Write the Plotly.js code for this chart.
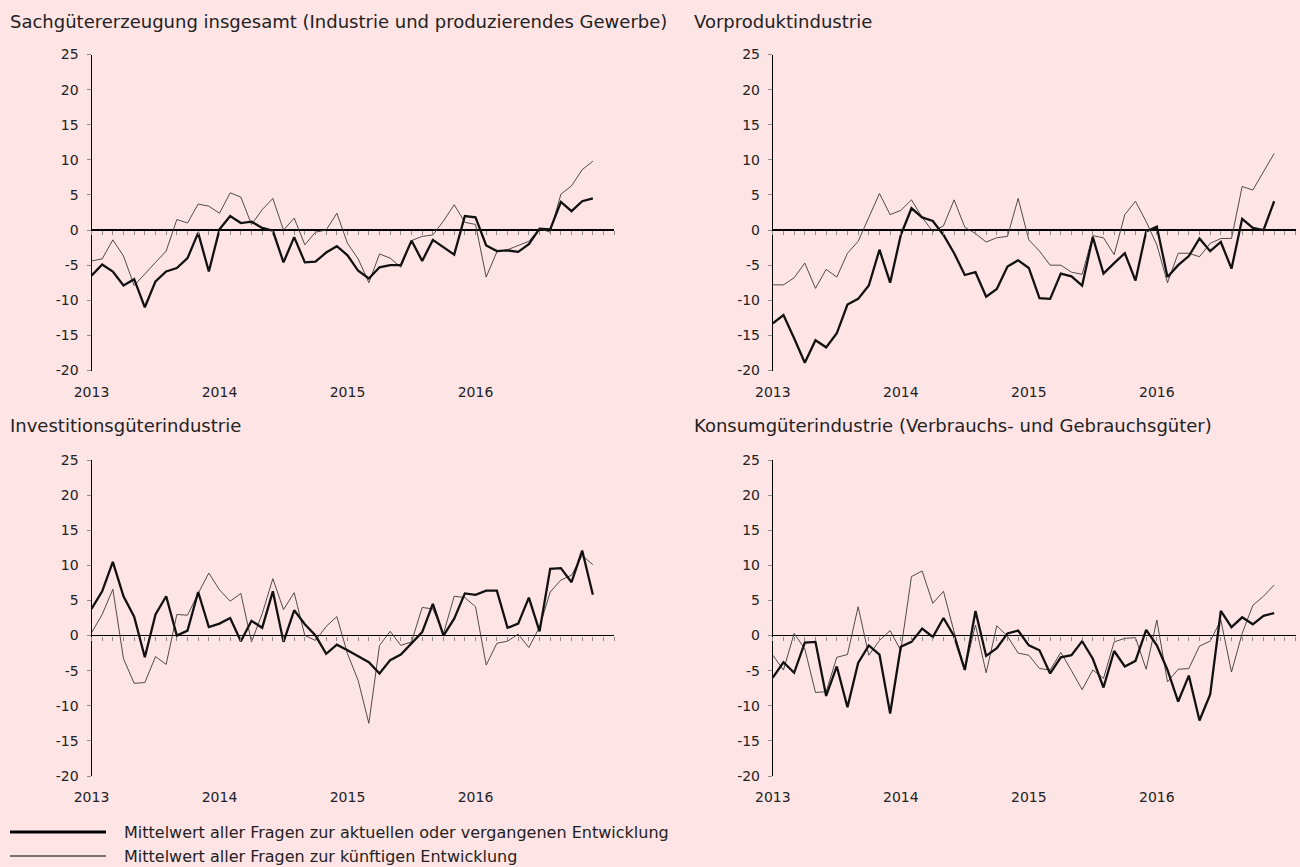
<!DOCTYPE html>
<html>
<head>
<meta charset="utf-8">
<script src="https://cdn.plot.ly/plotly-3.0.1.min.js"></script>
<style>html,body{margin:0;padding:0;background:#FFE4E6;}#chart{width:1300px;height:867px;}</style>
</head>
<body>
<div id="chart"></div>
<script>
// ---- Data (monthly, Jan 2013 - Dec 2016) ----
const yearLabels = ["2013", "2014", "2015", "2016"];
const yearTickPos = [0, 12, 24, 36];
const yTickVals = [-20, -15, -10, -5, 0, 5, 10, 15, 20, 25];
const yTickText = ["-20", "-15", "-10", "-5", "0", "5", "10", "15", "20", "25"];
const months = Array.from({length: 48}, (_, i) => i);

const panelTitles = [
  "Sachgütererzeugung insgesamt (Industrie und produzierendes Gewerbe)",
  "Vorproduktindustrie",
  "Investitionsgüterindustrie",
  "Konsumgüterindustrie (Verbrauchs- und Gebrauchsgüter)"
];
const seriesNames = [
  "Mittelwert aller Fragen zur aktuellen oder vergangenen Entwicklung",
  "Mittelwert aller Fragen zur künftigen Entwicklung"
];

const sachAktuell = [-6.5,-4.9,-5.9,-7.9,-7.0,-11.0,-7.3,-5.9,-5.4,-4.0,-0.4,-5.9,0.1,2.0,1.0,1.2,0.3,-0.1,-4.6,-1.0,-4.6,-4.5,-3.2,-2.3,-3.6,-5.8,-6.9,-5.3,-5.0,-5.0,-1.5,-4.4,-1.4,-2.5,-3.5,2.0,1.8,-2.2,-3.0,-2.9,-3.1,-2.0,0.2,0.1,4.0,2.7,4.1,4.5];
const sachKuenftig = [-4.4,-4.1,-1.4,-3.7,-7.9,-6.2,-4.6,-3.0,1.5,1.0,3.7,3.4,2.4,5.3,4.7,0.8,2.9,4.5,0.0,1.7,-2.1,-0.3,0.0,2.4,-1.9,-4.1,-7.5,-3.4,-4.0,-5.3,-1.5,-0.9,-0.7,1.3,3.6,1.1,0.8,-6.7,-3.1,-2.8,-2.2,-1.6,0.2,-0.3,5.1,6.3,8.6,9.8];

const vorAktuell = [-13.3,-12.1,-15.4,-18.9,-15.7,-16.7,-14.7,-10.6,-9.8,-7.9,-2.8,-7.5,-0.7,3.1,1.8,1.3,-0.7,-3.3,-6.4,-6.0,-9.5,-8.4,-5.2,-4.3,-5.4,-9.7,-9.8,-6.2,-6.6,-7.9,-1.0,-6.2,-4.7,-3.3,-7.2,-0.2,0.5,-6.7,-5.0,-3.7,-1.2,-3.0,-1.7,-5.5,1.6,0.3,0.0,4.1];
const vorKuenftig = [-7.8,-7.8,-6.8,-4.7,-8.3,-5.6,-6.7,-3.3,-1.6,1.8,5.2,2.2,2.8,4.3,1.8,-0.2,0.6,4.3,0.4,-0.5,-1.7,-1.1,-0.9,4.5,-1.4,-3.0,-5.0,-5.0,-6.0,-6.3,-0.8,-1.1,-3.5,2.2,4.1,1.2,-2.1,-7.5,-3.3,-3.3,-3.8,-1.9,-1.2,-1.2,6.2,5.7,8.3,10.9];

const invAktuell = [3.8,6.3,10.5,5.6,2.7,-3.1,3.0,5.6,0.0,0.7,6.2,1.2,1.7,2.5,-0.8,2.1,1.1,6.3,-0.9,3.6,1.6,0.0,-2.6,-1.3,-2.1,-3.0,-3.8,-5.4,-3.5,-2.7,-1.1,0.5,4.5,0.0,2.4,6.0,5.8,6.4,6.4,1.1,1.7,5.4,0.6,9.5,9.6,7.6,12.1,5.8];
const invKuenftig = [0.4,3.0,6.6,-3.3,-6.8,-6.7,-3.0,-4.1,3.0,2.9,6.0,8.9,6.5,4.9,6.0,-0.9,3.1,8.1,3.7,6.1,0.0,-0.7,1.3,2.7,-2.6,-6.4,-12.5,-1.4,0.6,-1.4,-0.9,4.0,3.8,0.3,5.6,5.4,4.1,-4.2,-1.1,-0.8,0.2,-1.7,1.2,6.2,7.9,8.6,11.4,10.1];

const konAktuell = [-6.0,-3.8,-5.3,-1.0,-0.9,-8.6,-4.4,-10.2,-3.9,-1.4,-2.7,-11.1,-1.6,-0.9,1.0,-0.2,2.5,-0.1,-4.9,3.5,-2.9,-1.8,0.3,0.7,-1.4,-2.1,-5.4,-3.1,-2.8,-0.8,-3.3,-7.4,-2.2,-4.4,-3.6,0.8,-1.4,-4.9,-9.4,-5.7,-12.1,-8.4,3.5,1.2,2.6,1.6,2.8,3.2];
const konKuenftig = [-2.8,-4.9,0.3,-1.9,-8.1,-8.0,-3.1,-2.7,4.1,-2.8,-0.7,0.7,-2.1,8.4,9.2,4.6,6.3,0.5,-4.8,1.5,-5.3,1.4,-0.1,-2.5,-2.8,-4.7,-4.9,-2.4,-5.0,-7.7,-4.9,-6.1,-0.9,-0.4,-0.3,-4.8,2.2,-6.6,-4.8,-4.7,-1.5,-0.8,2.2,-5.2,0.3,4.3,5.6,7.2];

const aktuellSeries = [sachAktuell, vorAktuell, invAktuell, konAktuell];
const kuenftigSeries = [sachKuenftig, vorKuenftig, invKuenftig, konKuenftig];

// ---- Layout geometry (pixels) ----
const W = 1300, H = 867;
const FONT = "DejaVu Sans";
const panels = [
  {x0: 91.5, x1: 614.2, y0: 54.5, y1: 370.5, tx: 8,   ty: 21},
  {x0: 772.8, x1: 1295.5, y0: 54.5, y1: 370.5, tx: 691.5, ty: 21},
  {x0: 91.5, x1: 614.2, y0: 460, y1: 776, tx: 8,   ty: 425},
  {x0: 772.8, x1: 1295.5, y0: 460, y1: 776, tx: 691.5, ty: 425}
];
const Y_MIN = -20, Y_MAX = 25, X_MAX = 49;
const px = v => v / W;
const py = v => 1 - v / H;

const traces = [];
const layout = {
  width: W, height: H,
  margin: {l: 0, r: 0, t: 0, b: 0},
  paper_bgcolor: "#FFE4E6",
  plot_bgcolor: "rgba(0,0,0,0)",
  showlegend: false,
  font: {family: FONT, size: 14, color: "#222"},
  annotations: [],
  shapes: []
};

panels.forEach((p, i) => {
  const k = i + 1;
  const kt = i + 5;
  const xa = "x" + k, ya = "y" + k, xt = "x" + kt;
  traces.push({
    x: months, y: kuenftigSeries[i], xaxis: xa, yaxis: ya,
    type: "scatter", mode: "lines", name: seriesNames[1],
    line: {color: "#3a3a3a", width: 0.9}, hoverinfo: "skip"
  });
  traces.push({
    x: months, y: aktuellSeries[i], xaxis: xa, yaxis: ya,
    type: "scatter", mode: "lines", name: seriesNames[0],
    line: {color: "#111111", width: 2.3}, hoverinfo: "skip"
  });
  traces.push({x: [], y: [], xaxis: xt, yaxis: ya, type: "scatter", mode: "lines", showlegend: false});

  const yDom = [py(p.y1), py(p.y0)];
  const zeroPos = yDom[0] + (0 - Y_MIN) / (Y_MAX - Y_MIN) * (yDom[1] - yDom[0]);

  layout["xaxis" + k] = {
    domain: [px(p.x0), px(p.x1)], anchor: ya, range: [0, X_MAX],
    tickmode: "array", tickvals: yearTickPos, ticktext: yearLabels,
    ticks: "", showline: false, showgrid: false, zeroline: false,
    tickfont: {family: FONT, size: 14, color: "#222"}, ticklabelstandoff: 11
  };
  layout["xaxis" + kt] = {
    overlaying: xa, anchor: "free", position: zeroPos, range: [0, X_MAX],
    tickmode: "linear", tick0: 0, dtick: 1, ticks: "outside", ticklen: 4,
    tickcolor: "#8a8a8a", tickwidth: 1, showticklabels: false,
    showline: false, showgrid: false, zeroline: false
  };
  layout["yaxis" + k] = {
    domain: yDom, anchor: xa, range: [Y_MIN, Y_MAX],
    tickmode: "array", tickvals: yTickVals, ticktext: yTickText,
    ticks: "outside", ticklen: 4, tickcolor: "#8a8a8a", tickwidth: 1,
    showline: true, linecolor: "#000", linewidth: 1,
    zeroline: true, zerolinecolor: "#000", zerolinewidth: 1.3,
    showgrid: false, tickfont: {family: FONT, size: 14, color: "#222"},
    ticklabelstandoff: 5
  };
  layout.annotations.push({
    xref: "paper", yref: "paper", x: px(p.tx), y: py(p.ty),
    xanchor: "left", yanchor: "middle", showarrow: false,
    text: panelTitles[i], font: {family: FONT, size: 18, color: "#222"}
  });
});

// Legend (keys drawn as paper-space line samples)
const legendRows = [{y: 832, w: 3}, {y: 856, w: 1.2}];
legendRows.forEach((r, j) => {
  layout.shapes.push({
    type: "line", xref: "paper", yref: "paper",
    x0: px(10), x1: px(106), y0: py(r.y), y1: py(r.y),
    line: {color: "#000", width: r.w}
  });
  layout.annotations.push({
    xref: "paper", yref: "paper", x: px(122), y: py(r.y),
    xanchor: "left", yanchor: "middle", showarrow: false,
    text: seriesNames[j], font: {family: FONT, size: 16, color: "#222"}
  });
});

Plotly.newPlot("chart", traces, layout, {displayModeBar: false, staticPlot: true});
</script>
</body>
</html>
